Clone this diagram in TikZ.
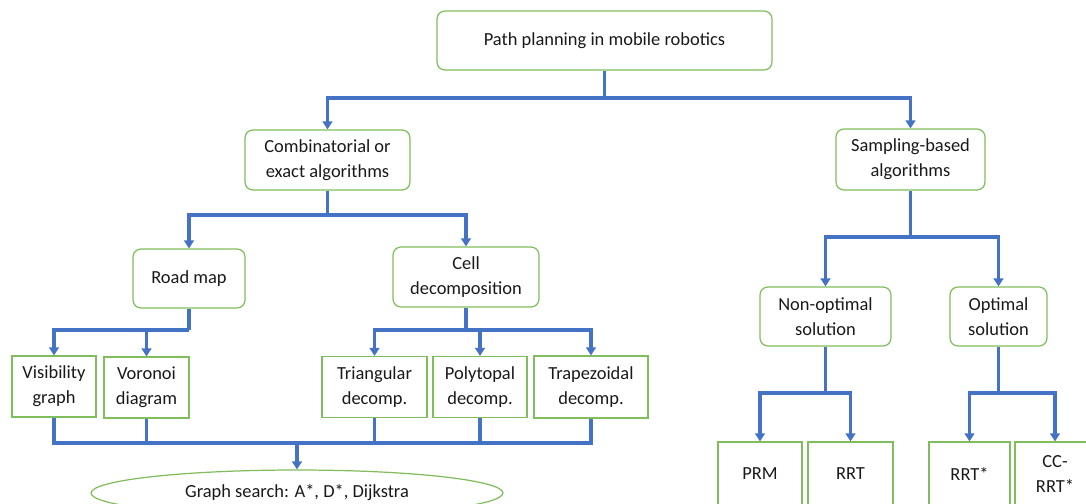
\documentclass[tikz,border=0pt]{standalone}
\usepackage{fontspec}
\setmainfont{Carlito}
\usepackage{xcolor}
\usetikzlibrary{arrows.meta, positioning, shapes.geometric}

\definecolor{boxgreen}{RGB}{128,189,92}
\definecolor{linkblue}{RGB}{68,114,196}

\begin{document}
\begin{tikzpicture}[x=0.02cm, y=-0.02cm,
      every node/.style={align=center, draw=boxgreen, line width=0.7pt, inner sep=2pt,
        font=\fontsize{10.5}{14.2}\selectfont, text=black!90},
      catbox/.style={rectangle, rounded corners=4.5pt},
      leafbox/.style={rectangle},
      link/.style={draw=linkblue, line width=1.8pt},
      linkarrow/.style={link, -{Triangle[width=5.5pt, length=4.5pt]}}]
      \useasboundingbox (0,0) rectangle (1086,504);
      \node[catbox, minimum width=6.7cm, minimum height=1.18cm] (root) at (604.5,40.5) {Path planning in mobile robotics};
      \node[catbox, minimum width=3.3cm, minimum height=1.2cm] (comb) at (327.5,160) {Combinatorial or\\exact algorithms};
      \node[catbox, minimum width=2.98cm, minimum height=1.22cm] (samp) at (910.5,159.5) {Sampling-based\\algorithms};
      \node[catbox, minimum width=2.24cm, minimum height=1.18cm] (road) at (189,278.5) {Road map};
      \node[catbox, minimum width=2.92cm, minimum height=1.2cm] (cell) at (466,277) {Cell\\decomposition};
      \node[catbox, minimum width=2.62cm, minimum height=1.18cm] (nonopt) at (825.5,316.5) {Non-optimal\\solution};
      \node[catbox, minimum width=1.94cm, minimum height=1.18cm] (opt) at (998.5,316.5) {Optimal\\solution};
      \node[leafbox, minimum width=1.68cm, minimum height=1.22cm] (vis) at (54,386.5) {Visibility\\graph};
      \node[leafbox, minimum width=1.7cm, minimum height=1.22cm] (vor) at (146.5,387.5) {Voronoi\\diagram};
      \node[leafbox, minimum width=2.1cm, minimum height=1.22cm] (tri) at (374.5,387) {Triangular\\decomp.};
      \node[leafbox, minimum width=1.88cm, minimum height=1.22cm] (poly) at (480,387) {Polytopal\\decomp.};
      \node[leafbox, minimum width=2.28cm, minimum height=1.24cm] (trap) at (591,387) {Trapezoidal\\decomp.};
      \node[leafbox, minimum width=1.68cm, minimum height=1.28cm] (prm) at (760,474) {PRM};
      \node[leafbox, minimum width=1.7cm, minimum height=1.28cm] (rrt) at (850.5,474) {RRT};
      \node[leafbox, minimum width=1.62cm, minimum height=1.28cm] (rrts) at (969.5,474) {RRT*};
      \node[leafbox, minimum width=1.6cm, minimum height=1.28cm] (ccrrt) at (1055,474) {CC-\\RRT*};
      \node[ellipse, minimum width=8.24cm, minimum height=0.92cm] (gs) at (297,493) {Graph search: A*, D*, Dijkstra};

      \coordinate (bus1) at (0,98);
      \coordinate (bus2) at (0,215);
      \coordinate (bus3) at (0,330);
      \coordinate (bus4) at (0,237);
      \coordinate (bus5) at (0,393);
      \coordinate (bus6) at (0,443);

      \draw[link] (root.south) -- (root.south |- bus1);
      \draw[linkarrow] (root.south |- bus1) -| (comb.north);
      \draw[linkarrow] (root.south |- bus1) -| (samp.north);

      \draw[link] (comb.south) -- (comb.south |- bus2);
      \draw[linkarrow] (comb.south |- bus2) -| (road.north);
      \draw[linkarrow] (comb.south |- bus2) -| (cell.north);

      \draw[link] (road.south) -- (road.south |- bus3);
      \draw[linkarrow] (road.south |- bus3) -| (vis.north);
      \draw[linkarrow] (vor.north |- bus3) -- (vor.north);

      \draw[link] (cell.south) -- (cell.south |- bus3);
      \draw[linkarrow] (cell.south |- bus3) -| (tri.north);
      \draw[linkarrow] (cell.south |- bus3) -| (trap.north);
      \draw[linkarrow] (poly.north |- bus3) -- (poly.north);

      \draw[link] (vis.south) |- (trap.south |- bus6) -- (trap.south);
      \draw[link] (vor.south) -- (vor.south |- bus6);
      \draw[link] (tri.south) -- (tri.south |- bus6);
      \draw[link] (poly.south) -- (poly.south |- bus6);
      \draw[linkarrow] (gs.north |- bus6) -- (gs.north);

      \draw[link] (samp.south) -- (samp.south |- bus4);
      \draw[linkarrow] (samp.south |- bus4) -| (nonopt.north);
      \draw[linkarrow] (samp.south |- bus4) -| (opt.north);

      \draw[link] (nonopt.south) -- (nonopt.south |- bus5);
      \draw[linkarrow] (nonopt.south |- bus5) -| (prm.north);
      \draw[linkarrow] (nonopt.south |- bus5) -| (rrt.north);

      \draw[link] (opt.south) -- (opt.south |- bus5);
      \draw[linkarrow] (opt.south |- bus5) -| (rrts.north);
      \draw[linkarrow] (opt.south |- bus5) -| (ccrrt.north);
    \end{tikzpicture}
\end{document}
